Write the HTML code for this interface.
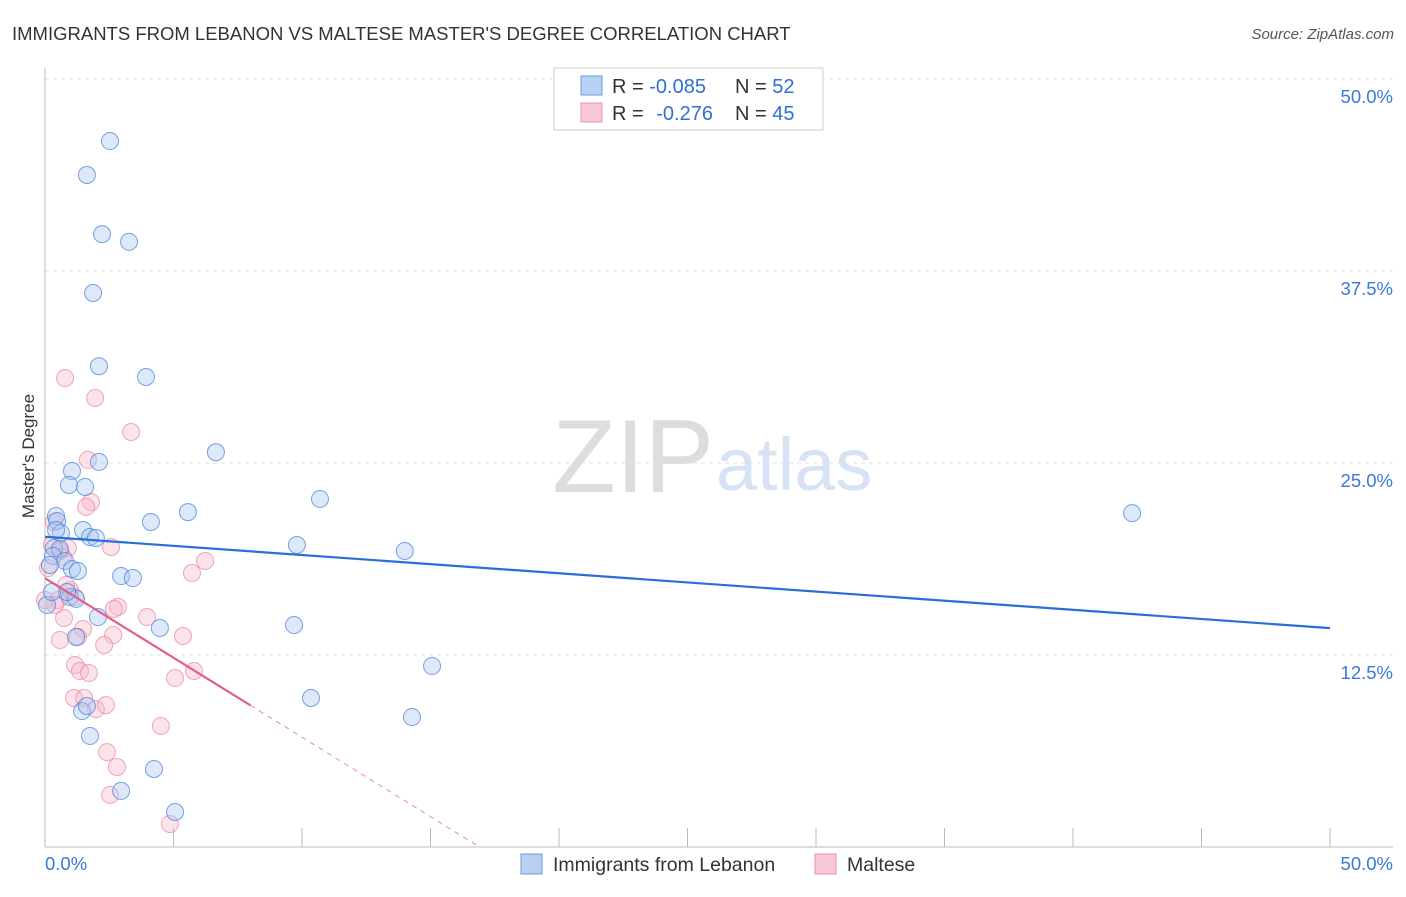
<!DOCTYPE html>
<html><head><meta charset="utf-8"><style>
body{margin:0;background:#fff;font-family:"Liberation Sans",sans-serif;}
svg text{font-family:"Liberation Sans",sans-serif;}
</style></head><body>
<svg id="chart" width="1406" height="892">
<text x="12" y="40" font-size="18.5" fill="#333">IMMIGRANTS FROM LEBANON VS MALTESE MASTER'S DEGREE CORRELATION CHART</text>
<text x="1394" y="39" font-size="15" fill="#555" font-style="italic" text-anchor="end">Source: ZipAtlas.com</text>
<text x="714" y="492" font-size="104" fill="#ddd" font-family="Liberation Serif" text-anchor="end">ZIP</text>
<text x="716" y="490" font-size="74" fill="#d6e3f5">atlas</text>
<g id="grid"></g><g id="marks"></g>
<text transform="translate(34,456) rotate(-90)" font-size="17" fill="#333" text-anchor="middle">Master's Degree</text>
<g>
<rect x="554" y="68" width="269" height="62" fill="#fff" stroke="#ccc"/>
<rect x="581" y="76" width="21" height="19" fill="#b8d0f2" stroke="#6a9be0"/>
<rect x="581" y="103" width="21" height="19" fill="#f9c8d6" stroke="#e890aa"/>
<text x="612" y="93" font-size="20" fill="#333">R = <tspan fill="#2f6fd6">-0.085</tspan><tspan x="735">N = </tspan><tspan fill="#2f6fd6">52</tspan></text>
<text x="612" y="120" font-size="20" fill="#333">R = <tspan fill="#2f6fd6" dx="7">-0.276</tspan><tspan x="735">N = </tspan><tspan fill="#2f6fd6">45</tspan></text>
</g>
<g>
<rect x="521" y="854" width="21" height="20" fill="#b8d0f2" stroke="#6a9be0"/>
<text x="553" y="871" font-size="19.5" fill="#333">Immigrants from Lebanon</text>
<rect x="815" y="854" width="21" height="20" fill="#f9c8d6" stroke="#e890aa"/>
<text x="847" y="871" font-size="19.5" fill="#333">Maltese</text>
</g>
</svg>
<script>
const yTicks=[12.5,25.0,37.5,50.0];
const xTickLabels=["0.0%","50.0%"];
const blueX=[2.53,1.63,2.22,3.27,1.87,2.1,3.93,6.65,2.1,1.05,0.93,1.56,10.7,0.43,0.47,5.56,4.12,1.48,0.62,1.75,1.98,42.3,9.8,14.0,0.35,0.58,0.31,0.78,1.05,1.28,2.96,3.42,0.19,0.97,1.21,0.86,2.06,4.47,9.69,1.21,15.06,10.35,1.44,1.63,14.28,1.75,4.24,2.96,5.06,0.08,0.27,0.43];
const blueY=[45.96,43.75,39.9,39.4,36.07,31.3,30.6,25.7,25.07,24.48,23.57,23.44,22.66,21.55,21.22,21.8,21.16,20.64,20.44,20.18,20.12,21.74,19.66,19.27,19.47,19.4,18.95,18.62,18.1,17.97,17.64,17.51,18.36,16.28,16.15,16.6,14.97,14.26,14.45,13.67,11.78,9.7,8.85,9.18,8.46,7.23,5.08,3.65,2.28,15.76,16.6,20.64];
const pinkX=[0.78,1.95,3.35,1.67,1.79,1.6,0.35,0.27,0.89,0.58,0.7,2.57,6.23,5.72,0.12,0.51,0.97,0.82,1.17,2.84,2.68,3.97,0.74,1.48,1.28,2.65,5.37,0.58,2.3,1.17,1.36,1.71,5.8,5.06,1.13,1.52,1.98,2.37,4.51,2.41,2.8,2.53,4.86,0.39,0];
const pinkY=[30.53,29.23,27.02,25.2,22.46,22.14,21.16,19.66,19.47,19.27,18.88,19.53,18.62,17.84,18.16,16.08,16.73,17.06,16.28,15.63,15.5,14.97,14.91,14.19,13.67,13.8,13.74,13.48,13.15,11.85,11.46,11.33,11.46,11.0,9.7,9.7,8.98,9.24,7.88,6.18,5.21,3.39,1.5,15.76,16.08];
const blueTrend=[20.2,14.25];
const pinkTrend=[17.5,-1.035];
const NS='http://www.w3.org/2000/svg';
const X=v=>45+v*25.7, Y=v=>847-v*15.36;
function mk(tag,attrs,parent){const e=document.createElementNS(NS,tag);for(const k in attrs)e.setAttribute(k,attrs[k]);parent.appendChild(e);return e;}
const grid=document.getElementById('grid'), marks=document.getElementById('marks');
yTicks.forEach(t=>{
 const l=mk('line',{x1:45,x2:1393,y1:Y(t),y2:Y(t),stroke:'#e2e2e2','stroke-dasharray':'4,4'},grid);
 
 
 const tx=mk('text',{x:1393,y:Y(t)+24,'font-size':18.5,fill:'#3b78d8','text-anchor':'end'},grid);
 tx.textContent=t.toFixed(1)+'%';
 
 
});
let ax=mk('line',{x1:45,x2:45,y1:68,y2:847,stroke:'#bbb'},grid);


ax=mk('line',{x1:45,x2:1393,y1:847,y2:847,stroke:'#bbb'},grid);


for(let i=0;i<=10;i++){
 const t=mk('line',{x1:X(i*5),x2:X(i*5),y1:828,y2:847,stroke:'#bbb'},grid);
 
 
}
[[0,'start',45],[50,'end',1393]].forEach((d,i)=>{
 const t=mk('text',{x:d[2],y:870,'font-size':18.5,fill:'#3b78d8','text-anchor':d[1]},grid);
 t.textContent=xTickLabels[i];
 
 
});
function dots(xs,ys,fill,stroke,name){
 xs.forEach((x,i)=>{
  const c=mk('circle',{cx:X(x),cy:Y(ys[i]),r:8.5,fill:fill,'fill-opacity':0.4,stroke:stroke,'stroke-opacity':0.75,'stroke-width':1},marks);
  
  
 });
}
dots(pinkX,pinkY,'#f7b9cb','#e88aa6','maltese-point');
dots(blueX,blueY,'#a9c6f0','#4a84dc','lebanon-point');
let tl=mk('line',{x1:X(0),y1:Y(blueTrend[0]),x2:X(50),y2:Y(blueTrend[1]),stroke:'#2a6fd6','stroke-width':2.2},marks);


const pe=8, pz=-pinkTrend[0]/pinkTrend[1];
tl=mk('line',{x1:X(0),y1:Y(pinkTrend[0]),x2:X(pe),y2:Y(pinkTrend[0]+pinkTrend[1]*pe),stroke:'#e0608a','stroke-width':2.2},marks);


tl=mk('line',{x1:X(pe),y1:Y(pinkTrend[0]+pinkTrend[1]*pe),x2:X(pz),y2:Y(0),stroke:'#e88aa6','stroke-width':1,'stroke-dasharray':'5,5'},marks);


</script>
</body></html>
